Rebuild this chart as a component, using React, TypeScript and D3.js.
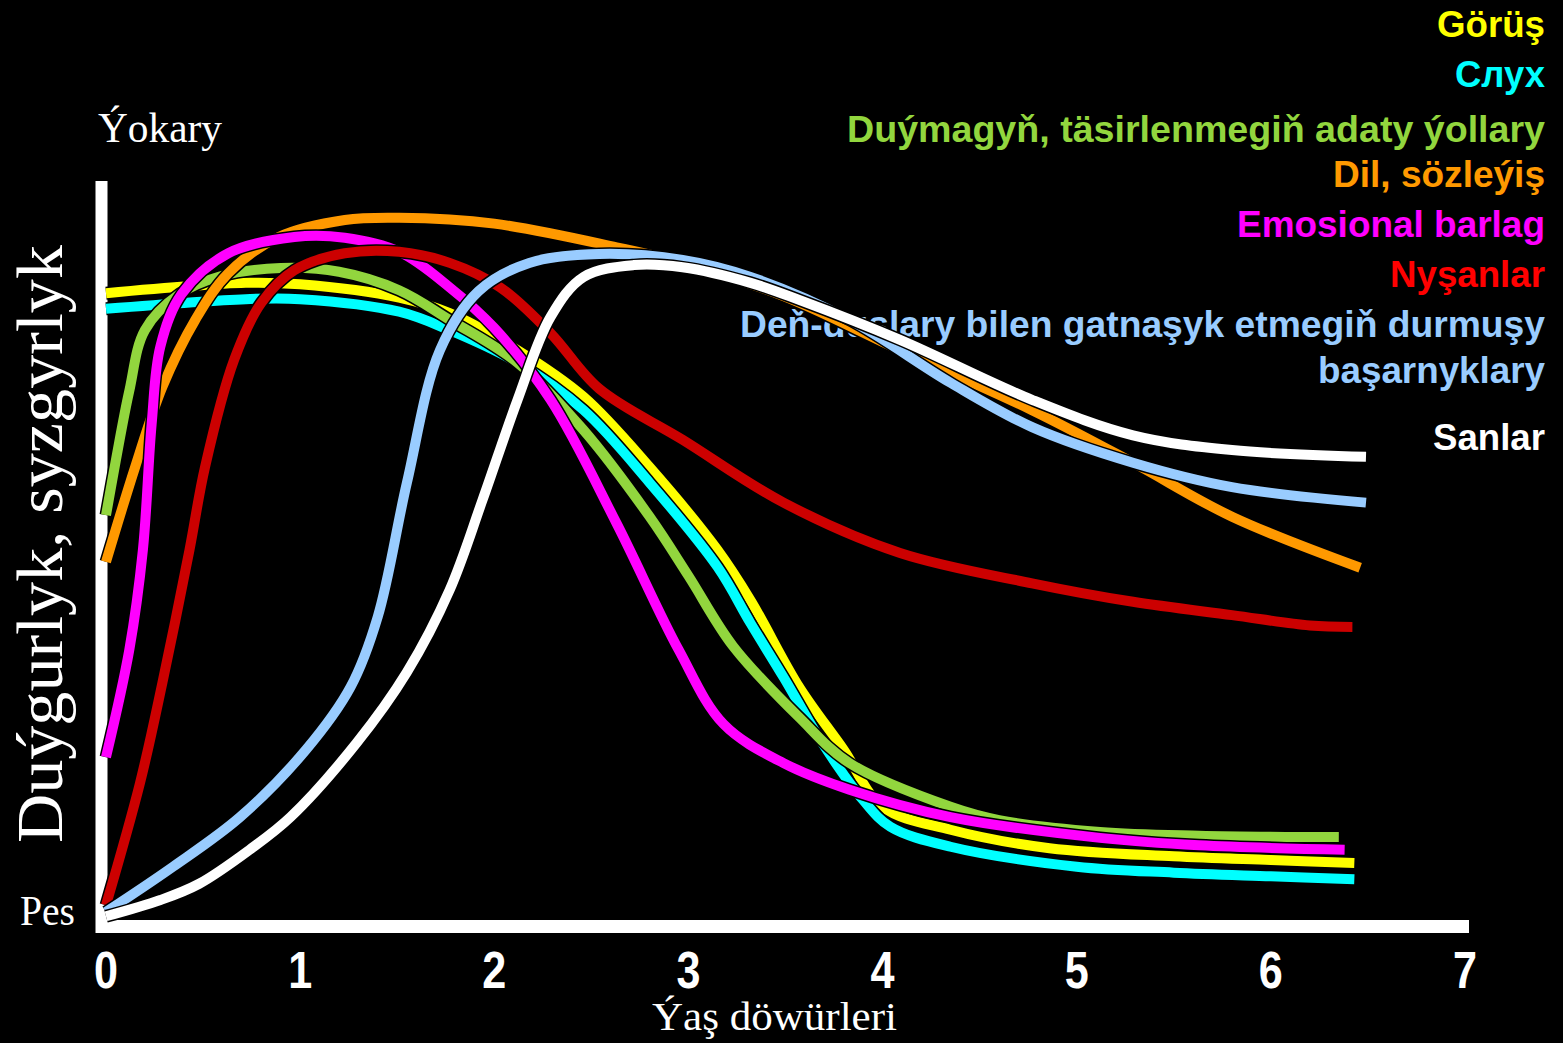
import React from "react";
import * as d3 from "d3";

type Pt = [number, number];

// Age (years) vs sensitivity (0 = Pes, 100 = top of axis)
const gorus: Pt[] = [[0,84.7],[0.72,86.1],[1.0,85.9],[1.51,84.1],[1.77,82.0],[2.12,77.0],[2.46,70.7],[2.8,61.2],[3.15,50.0],[3.32,43.2],[3.57,31.5],[3.8,23.0],[4.0,15.3],[4.35,12.2],[4.86,9.7],[5.5,8.6],[6.0,8.1],[6.43,7.7]];
const sluh: Pt[] = [[0,82.6],[0.72,83.9],[1.0,83.9],[1.51,82.2],[1.77,79.7],[2.12,75.3],[2.46,68.9],[2.8,59.1],[3.15,47.7],[3.32,40.1],[3.49,32.8],[3.69,23.9],[3.9,16.2],[4.04,12.6],[4.35,9.9],[5.0,7.2],[5.5,6.4],[6.0,5.9],[6.43,5.5]];
const duymagyn: Pt[] = [[0,54.7],[0.05,62.0],[0.12,71.5],[0.2,79.7],[0.38,84.6],[0.59,87.0],[0.9,88.1],[1.2,87.6],[1.51,85.1],[1.77,81.1],[2.12,75.3],[2.46,66.2],[2.8,54.5],[3.0,46.5],[3.23,37.0],[3.57,27.4],[3.83,21.2],[4.35,15.3],[4.6,13.5],[5.12,11.9],[5.63,11.4],[6.35,11.2]];
const dil: Pt[] = [[0,48.4],[0.15,61.2],[0.29,72.0],[0.46,81.1],[0.63,87.4],[0.89,92.3],[1.23,94.6],[1.51,94.9],[2.0,94.1],[2.63,90.9],[2.97,88.8],[3.49,84.3],[4.09,77.0],[4.77,68.9],[5.29,61.8],[5.8,54.5],[6.46,47.6]];
const emosional: Pt[] = [[0,22.0],[0.12,36.5],[0.19,50.0],[0.235,67.0],[0.28,77.5],[0.39,84.6],[0.63,90.1],[0.97,92.3],[1.23,92.2],[1.51,90.3],[1.77,85.5],[2.0,80.0],[2.29,70.3],[2.63,53.6],[2.95,36.5],[3.18,26.5],[3.49,21.2],[3.83,17.6],[4.35,13.9],[5.12,11.1],[5.63,10.1],[6.38,9.5]];
const nysanlar: Pt[] = [[0,2.0],[0.175,18.5],[0.29,32.0],[0.43,50.0],[0.51,61.2],[0.66,75.7],[0.8,83.4],[0.97,87.8],[1.23,90.1],[1.51,90.3],[1.77,88.8],[2.03,85.5],[2.29,79.3],[2.54,71.8],[2.97,64.9],[3.49,56.4],[4.09,49.6],[4.77,45.5],[5.29,43.0],[5.8,41.2],[6.2,39.8],[6.42,39.6]];
const denduslary: Pt[] = [[0,1.1],[0.345,7.2],[0.69,13.9],[1.03,23.0],[1.26,31.5],[1.4,41.0],[1.55,59.1],[1.72,77.0],[1.92,85.0],[2.18,88.8],[2.54,90.0],[2.97,89.2],[3.32,86.9],[3.83,81.1],[4.35,72.6],[4.77,66.6],[5.29,61.8],[5.8,58.5],[6.49,56.4]];
const sanlar: Pt[] = [[0,0.5],[0.28,2.7],[0.48,4.9],[0.74,9.5],[0.95,13.9],[1.29,23.9],[1.55,33.5],[1.77,44.6],[1.94,56.8],[2.12,70.3],[2.29,81.5],[2.46,86.9],[2.72,88.5],[2.97,88.2],[3.32,86.1],[3.57,83.8],[4.09,78.4],[4.77,70.3],[5.29,65.5],[5.8,63.5],[6.49,62.6]];

const seriesData: Pt[][] = [gorus, sluh, duymagyn, dil, emosional, nysanlar, denduslary, sanlar];
const seriesColors = ["#FFFF00", "#00FFFF", "#92D63E", "#FF9900", "#FF00FF", "#CC0000", "#99CCFF", "#FFFFFF"];

const legendLabels = [
  "Görüş",
  "Слух",
  "Duýmagyň, täsirlenmegiň adaty ýollary",
  "Dil, sözleýiş",
  "Emosional barlag",
  "Nyşanlar",
  "Deň-duslary bilen gatnaşyk etmegiň durmuşy",
  "başarnyklary",
  "Sanlar",
];
const legendColors = ["#FFFF00", "#00FFFF", "#92D63E", "#FF9900", "#FF00FF", "#FF0000", "#99CCFF", "#99CCFF", "#FFFFFF"];
// layout
const legendBaselines = [37, 87, 142, 187, 237, 287, 337, 383, 450];
const legendWidths = [108, 90, 698, 212, 308, 155, 805, 227, 112];

const xTicks = [0, 1, 2, 3, 4, 5, 6, 7];
const yTopLabel = "Ýokary";
const yBottomLabel = "Pes";
const yTitle = "Duýgurlyk, syzgyrlyk";
const xTitle = "Ýaş döwürleri";

const W = 1563;
const H = 1043;

export default function App() {
  const x = d3.scaleLinear().domain([0, 7]).range([106, 1465]);
  const y = d3.scaleLinear().domain([0, 100]).range([920, 180]);
  const line = d3
    .line<Pt>()
    .x((d) => x(d[0]))
    .y((d) => y(d[1]))
    .curve(d3.curveCatmullRom.alpha(0.5));

  const sans = "'Liberation Sans Narrow', 'Arial Narrow', 'Liberation Sans', Arial, sans-serif";
  const serif = "'Liberation Serif', 'DejaVu Serif', serif";

  return (
    <div style={{ position: "fixed", left: 0, top: 0, width: W, height: H, background: "#000" }}>
      <svg width={W} height={H} style={{ display: "block", background: "#000" }}>
        {/* legend */}
        {legendLabels.map((t, i) => (
          <text
            key={t}
            x={1545}
            y={legendBaselines[i]}
            textAnchor="end"
            fill={legendColors[i]}
            fontFamily={sans}
            fontWeight="bold"
            fontSize={37}
            textLength={legendWidths[i]}
            lengthAdjust="spacingAndGlyphs"
          >
            {t}
          </text>
        ))}

        {/* axes */}
        <line x1={x(0) - 4.5} x2={x(0) - 4.5} y1={y(100) + 1} y2={y(0) + 13} stroke="#fff" strokeWidth={12} />
        <line x1={x(0) - 10} x2={x(7) + 4} y1={y(0) + 6.5} y2={y(0) + 6.5} stroke="#fff" strokeWidth={13} />

        {/* series */}
        {seriesData.map((s, i) => (
          <g key={i}>
            <path d={line(s) || ""} fill="none" stroke="#000" strokeWidth={13} strokeLinecap="butt" strokeLinejoin="round" />
            <path d={line(s) || ""} fill="none" stroke={seriesColors[i]} strokeWidth={10} strokeLinecap="butt" strokeLinejoin="round" />
          </g>
        ))}

        {/* x tick labels */}
        {xTicks.map((t) => (
          <text
            key={t}
            x={x(t)}
            y={988}
            textAnchor="middle"
            fill="#fff"
            fontFamily={sans}
            fontWeight="bold"
            fontSize={51}
            textLength={24}
            lengthAdjust="spacingAndGlyphs"
          >
            {t}
          </text>
        ))}

        {/* serif labels */}
        <text x={98} y={142} fill="#fff" fontFamily={serif} fontSize={42} textLength={124} lengthAdjust="spacingAndGlyphs">
          {yTopLabel}
        </text>
        <text x={20} y={925} fill="#fff" fontFamily={serif} fontSize={42} textLength={55} lengthAdjust="spacingAndGlyphs">
          {yBottomLabel}
        </text>
        <text x={652} y={1030} fill="#fff" fontFamily={serif} fontSize={40} textLength={245} lengthAdjust="spacingAndGlyphs">
          {xTitle}
        </text>
        <text
          transform="translate(62,544) rotate(-90)"
          textAnchor="middle"
          fill="#fff"
          fontFamily={serif}
          fontSize={66}
          textLength={598}
          lengthAdjust="spacingAndGlyphs"
        >
          {yTitle}
        </text>
      </svg>
    </div>
  );
}
